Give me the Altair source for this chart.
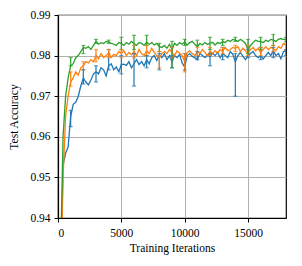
import altair as alt
import pandas as pd

iters = list(range(0, 18001, 200))

blue = [0.86, 0.925, 0.953, 0.956, 0.9575, 0.965, 0.968, 0.9685, 0.970, 0.9725,
        0.9745, 0.9735, 0.9728, 0.974, 0.9755, 0.9760, 0.9755, 0.9770, 0.9765, 0.9750,
        0.9775, 0.9780, 0.9765, 0.9772, 0.9760, 0.9778, 0.9779, 0.9776, 0.9785, 0.9770,
        0.9780, 0.9790, 0.9778, 0.9785, 0.9775, 0.9790, 0.9780, 0.9795, 0.9800, 0.9788,
        0.9802, 0.9795, 0.9805, 0.9790, 0.9800, 0.9785, 0.9800, 0.9795, 0.9803, 0.9782,
        0.9772, 0.9800, 0.9805, 0.9798, 0.9795, 0.9790, 0.9805, 0.9800, 0.9795, 0.9802,
        0.9797, 0.9806, 0.9800, 0.9808, 0.9795, 0.9805, 0.9800, 0.9795, 0.9810, 0.9803,
        0.9785, 0.9800, 0.9808, 0.9798, 0.9790, 0.9800, 0.9805, 0.9810, 0.9800, 0.9795,
        0.9800, 0.9792, 0.9800, 0.9808, 0.9800, 0.9812, 0.9800, 0.9805, 0.9792, 0.9810,
        0.9812]

orange = [0.86, 0.92, 0.950, 0.965, 0.970, 0.9735, 0.9745, 0.9760, 0.9752, 0.9770,
          0.9775, 0.9785, 0.9782, 0.9790, 0.9785, 0.9800, 0.9792, 0.9805, 0.9795, 0.9800,
          0.9808, 0.9795, 0.9803, 0.9800, 0.9810, 0.9805, 0.9812, 0.9800, 0.9808, 0.9802,
          0.9810, 0.9800, 0.9815, 0.9805, 0.9800, 0.9812, 0.9805, 0.9818, 0.9808, 0.9800,
          0.9795, 0.9805, 0.9810, 0.9805, 0.9815, 0.9808, 0.9800, 0.9812, 0.9806, 0.9800,
          0.9785, 0.9808, 0.9812, 0.9805, 0.9800, 0.9810, 0.9805, 0.9815, 0.9808, 0.9800,
          0.9810, 0.9805, 0.9812, 0.9806, 0.9815, 0.9810, 0.9820, 0.9812, 0.9815, 0.9820,
          0.9818, 0.9822, 0.9810, 0.9818, 0.9812, 0.9805, 0.9815, 0.9820, 0.9812, 0.9818,
          0.9808, 0.9815, 0.9822, 0.9815, 0.9820, 0.9818, 0.9812, 0.9822, 0.9818, 0.9830,
          0.9825]

green = [0.87, 0.93, 0.960, 0.970, 0.9745, 0.9775, 0.9780, 0.9795, 0.9800, 0.9810,
         0.9820, 0.9818, 0.9822, 0.9815, 0.9825, 0.9835, 0.9828, 0.9832, 0.9830, 0.9835,
         0.9833, 0.9830, 0.9828, 0.9825, 0.9832, 0.9830, 0.9825, 0.9832, 0.9828, 0.9835,
         0.9830, 0.9825, 0.9832, 0.9830, 0.9825, 0.9833, 0.9828, 0.9832, 0.9826, 0.9830,
         0.9822, 0.9820, 0.9825, 0.9818, 0.9828, 0.9815, 0.9830, 0.9825, 0.9832, 0.9828,
         0.9833, 0.9826, 0.9832, 0.9835, 0.9828, 0.9822, 0.9830, 0.9826, 0.9832, 0.9828,
         0.9830, 0.9833, 0.9826, 0.9832, 0.9830, 0.9835, 0.9832, 0.9838, 0.9835, 0.9840,
         0.9838, 0.9835, 0.9840, 0.9836, 0.9830, 0.9815, 0.9825, 0.9832, 0.9838, 0.9835,
         0.9835, 0.9832, 0.9838, 0.9835, 0.9840, 0.9838, 0.9835, 0.9840, 0.9842, 0.9840,
         0.9840]

err_iters = list(range(1000, 18001, 1000))
blue_lo = [0.9625, 0.9730, 0.9735, 0.9765, 0.9755, 0.9725, 0.9770, 0.9765, 0.9770,
           0.9765, 0.9790, 0.9775, 0.9790, 0.9700, 0.9795, 0.9790, 0.9795, 0.9800]
blue_hi = [0.9665, 0.9765, 0.9775, 0.9815, 0.9800, 0.9805, 0.9800, 0.9805, 0.9800,
           0.9805, 0.9810, 0.9805, 0.9820, 0.9805, 0.9815, 0.9820, 0.9820, 0.9815]
orange_lo = [0.9725, 0.9765, 0.9785, 0.9795, 0.9795, 0.9795, 0.9800, 0.9770, 0.9795,
             0.9760, 0.9800, 0.9800, 0.9805, 0.9810, 0.9800, 0.9800, 0.9810, 0.9815]
orange_hi = [0.9760, 0.9785, 0.9815, 0.9815, 0.9815, 0.9825, 0.9825, 0.9810, 0.9820,
             0.9805, 0.9820, 0.9820, 0.9820, 0.9825, 0.9825, 0.9820, 0.9825, 0.9830]
green_lo = [0.9775, 0.9805, 0.9830, 0.9830, 0.9815, 0.9815, 0.9825, 0.9810, 0.9770,
            0.9825, 0.9825, 0.9815, 0.9825, 0.9835, 0.9805, 0.9815, 0.9825, 0.9835]
green_hi = [0.9795, 0.9825, 0.9840, 0.9838, 0.9845, 0.9850, 0.9850, 0.9830, 0.9835,
            0.9840, 0.9838, 0.9845, 0.9840, 0.9845, 0.9840, 0.9845, 0.9852, 0.9845]

series = ["a", "b", "c"]
colors = ["#1f77b4", "#ff7f0e", "#2ca02c"]

rows = []
for s, vals in zip(series, [blue, orange, green]):
    for x, v in zip(iters, vals):
        rows.append({"iter": x, "acc": v, "s": s})
df = pd.DataFrame(rows)

erows = []
for s, lo, hi in zip(series, [blue_lo, orange_lo, green_lo], [blue_hi, orange_hi, green_hi]):
    for x, l, h in zip(err_iters, lo, hi):
        erows.append({"iter": x, "lo": l, "hi": h, "s": s})
edf = pd.DataFrame(erows)

FONT = "Liberation Serif"

xscale = alt.Scale(domain=[0, 18000], nice=False)
yscale = alt.Scale(domain=[0.94, 0.99], nice=False)
cscale = alt.Scale(domain=series, range=colors)

xenc = alt.X("iter:Q", scale=xscale,
             axis=alt.Axis(title="Training Iterations", values=[0, 5000, 10000, 15000],
                           format="d", grid=True, labelPadding=5, titlePadding=4))
yenc = alt.Y("acc:Q", scale=yscale,
             axis=alt.Axis(title="Test Accuracy", values=[0.94, 0.95, 0.96, 0.97, 0.98, 0.99],
                           format=".2f", grid=True, labelPadding=4, titlePadding=10))

lines = alt.Chart(df).mark_line(strokeWidth=1.3, clip=True).encode(
    x=xenc, y=yenc,
    color=alt.Color("s:N", scale=cscale, legend=None),
    order=alt.Order("iter:Q"),
)

rules = alt.Chart(edf).mark_rule(strokeWidth=1.2, clip=True).encode(
    x=alt.X("iter:Q", scale=xscale),
    y=alt.Y("lo:Q", scale=yscale),
    y2="hi:Q",
    color=alt.Color("s:N", scale=cscale, legend=None),
)
caps_lo = alt.Chart(edf).mark_tick(orient="horizontal", size=4, thickness=1.2, clip=True).encode(
    x=alt.X("iter:Q", scale=xscale),
    y=alt.Y("lo:Q", scale=yscale),
    color=alt.Color("s:N", scale=cscale, legend=None),
)
caps_hi = alt.Chart(edf).mark_tick(orient="horizontal", size=4, thickness=1.2, clip=True).encode(
    x=alt.X("iter:Q", scale=xscale),
    y=alt.Y("hi:Q", scale=yscale),
    color=alt.Color("s:N", scale=cscale, legend=None),
)

chart = alt.layer(lines, rules, caps_lo, caps_hi).properties(
    width=228, height=203,
    autosize=alt.AutoSizeParams(type="none"),
    padding={"left": 50, "top": 7, "right": 8, "bottom": 40},
).configure_view(
    stroke="black", strokeWidth=1.2
).configure_axis(
    labelFont=FONT, titleFont=FONT, labelFontSize=11.5, titleFontSize=11.5,
    titleFontWeight="normal", labelColor="black", titleColor="black",
    domainColor="black", domainWidth=1.2, tickColor="black", tickSize=4,
    gridColor="#b0b0b0", gridWidth=1, gridOpacity=1,
)

chart.save("out.html", embed_options={"renderer": "svg", "actions": False})
